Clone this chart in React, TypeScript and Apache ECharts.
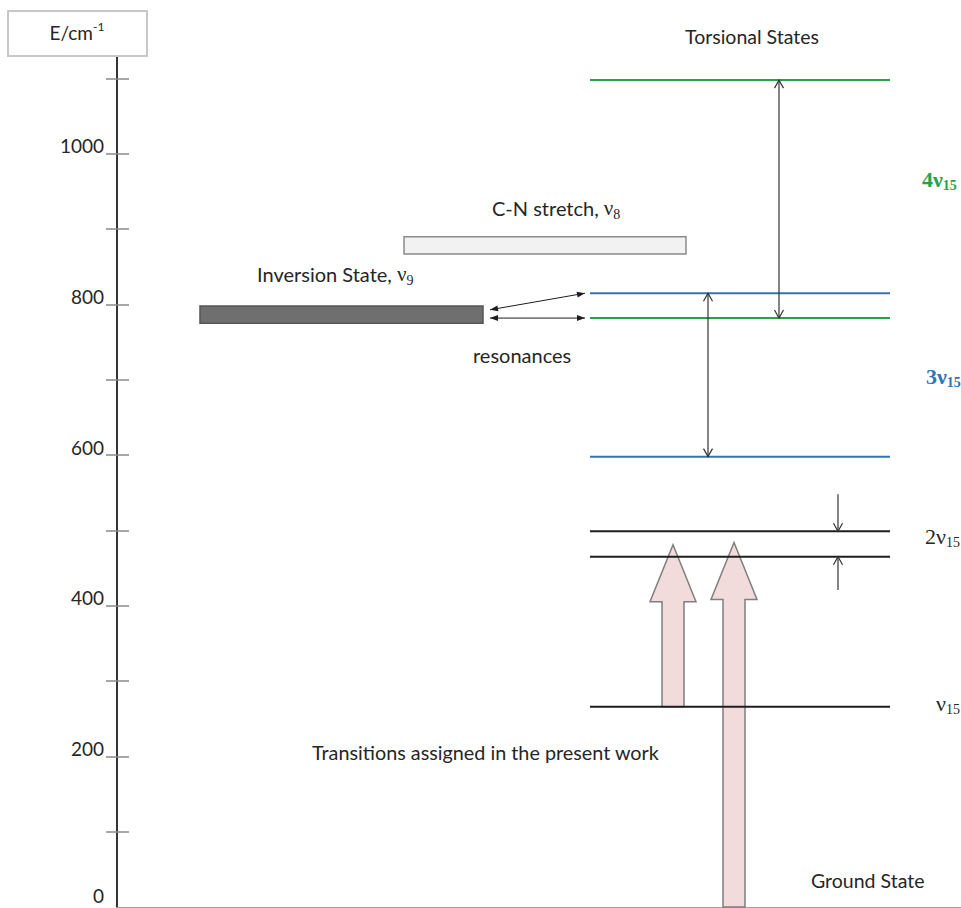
import React, { useEffect, useRef } from 'react';
import * as echarts from 'echarts';

// ---- data (energies in cm^-1) ----
const yTickValues = [100, 200, 300, 400, 500, 600, 700, 800, 900, 1000, 1100];
const yLabelValues = [0, 200, 400, 600, 800, 1000];

const levelFamilies = ['ν15', '2ν15', '2ν15', '3ν15', '3ν15', '4ν15', '4ν15'];
const levelEnergies = [266, 465, 499, 598, 815, 782, 1098];

const bandNames = ['Inversion State, ν9', 'C-N stretch, ν8'];
const bandLower = [775, 867];
const bandUpper = [798, 890];

const spacingLower = [598, 782];
const spacingUpper = [815, 1098];

const transitionStart = [266, 0];
const transitionEnd = [481, 484];

const resonanceBandEnergy = [793, 782];
const resonanceLevelEnergy = [815, 782];

const pointerFrom = [548, 421];
const pointerTo = [499, 465];

// ---- layout / styles ----
const LEVEL_X = [590, 890];
const BAND_X = [[200, 483], [404, 686]];
const BAND_FILL = ['#6f6f6f', '#f2f2f2'];
const BAND_STROKE = ['#555555', '#8a8a8a'];
const SPACING_X = [708, 779];
const TRANSITION_X = [673, 734];
const RESONANCE_X = [490, 585];
const POINTER_X = 838;
const FAMILY_COLOR: Record<string, string> = {
  'ν15': '#1e1e1e',
  '2ν15': '#1e1e1e',
  '3ν15': '#2f74b8',
  '4ν15': '#27a24c',
};
const SANS = 'Lato, "Open Sans", sans-serif';
const SERIF = '"Liberation Serif", "DejaVu Serif", serif';
const TEXT_COLOR = '#262626';

function chevron(x: number, y: number, dir: number, color: string) {
  return {
    type: 'polyline',
    shape: { points: [[x - 4.5, y - dir * 8], [x, y], [x + 4.5, y - dir * 8]] },
    style: { stroke: color, lineWidth: 1.2, fill: 'none' },
  };
}

function triHead(x: number, y: number, fromX: number, fromY: number, color: string) {
  const dx = x - fromX;
  const dy = y - fromY;
  const len = Math.sqrt(dx * dx + dy * dy) || 1;
  const ux = dx / len;
  const uy = dy / len;
  const L = 8;
  const W = 3;
  return {
    type: 'polygon',
    shape: {
      points: [
        [x, y],
        [x - ux * L - uy * W, y - uy * L + ux * W],
        [x - ux * L + uy * W, y - uy * L - ux * W],
      ],
    },
    style: { fill: color },
  };
}

function greekLabel(x: number, y: number, main: string, sub: string, color: string, bold: boolean) {
  return {
    type: 'text', z: 11, x, y,
    style: {
      text: `{m|${main}}{s|${sub}}`,
      textVerticalAlign: 'middle',
      rich: {
        m: { fontFamily: SERIF, fontSize: 22, fontWeight: bold ? 'bold' : 'normal', fill: color },
        s: { fontFamily: SERIF, fontSize: 14, fontWeight: bold ? 'bold' : 'normal', fill: color, padding: [13, 0, 0, 0] },
      },
    },
  };
}

function sansGreekLabel(x: number, y: number, plain: string, sub: string) {
  return {
    type: 'text', z: 11, x, y,
    style: {
      text: `{m|${plain}}{g|ν}{s|${sub}}`,
      textVerticalAlign: 'middle',
      rich: {
        m: { fontFamily: SANS, fontSize: 20, fill: TEXT_COLOR },
        g: { fontFamily: SERIF, fontSize: 21, fill: TEXT_COLOR },
        s: { fontFamily: SERIF, fontSize: 14, fill: TEXT_COLOR, padding: [12, 0, 0, 0] },
      },
    },
  };
}

export default function App() {
  const ref = useRef<HTMLDivElement>(null);
  useEffect(() => {
    if (!ref.current) return;
    document.body.style.margin = '0';
    const chart = echarts.init(ref.current, undefined, { renderer: 'svg' });

    const option: any = {
      animation: false,
      backgroundColor: '#ffffff',
      grid: { left: 117, right: 0, top: 56, bottom: 1, containLabel: false },
      xAxis: {
        type: 'value',
        min: 117,
        max: 961,
        axisLine: { show: true, lineStyle: { color: '#a0a0a0', width: 1 } },
        axisTick: { show: false },
        axisLabel: { show: false },
        splitLine: { show: false },
      },
      yAxis: [
        {
          type: 'value',
          min: 0,
          max: 1130,
          position: 'left',
          axisLine: { show: true, lineStyle: { color: '#333333', width: 2 } },
          axisTick: {
            show: true,
            inside: false,
            length: 11,
            customValues: yTickValues,
            lineStyle: { color: '#8a8a8a', width: 1.5 },
          },
          axisLabel: {
            show: true,
            customValues: yLabelValues,
            formatter: (v: number) => (v === 0 ? '{z|0}' : String(v)),
            margin: 13,
            fontFamily: SANS,
            fontSize: 19,
            color: TEXT_COLOR,
            verticalAlign: 'bottom',
            lineHeight: 16,
            rich: {
              z: { fontFamily: SANS, fontSize: 19, color: TEXT_COLOR, lineHeight: 24 },
            },
          },
          splitLine: { show: false },
        },
        {
          type: 'value',
          min: 0,
          max: 1130,
          position: 'left',
          axisLine: { show: false },
          axisTick: {
            show: true,
            inside: true,
            length: 12,
            customValues: yTickValues,
            lineStyle: { color: '#8a8a8a', width: 1.5 },
          },
          axisLabel: { show: false },
          splitLine: { show: false },
        },
      ],
      series: [
        {
          type: 'custom',
          name: 'transitions',
          z: 1,
          data: transitionStart.map((s, i) => [s, transitionEnd[i]]),
          renderItem: (params: any, api: any) => {
            const i = params.dataIndex;
            const xc = api.coord([TRANSITION_X[i], 0])[0];
            const y0 = api.coord([TRANSITION_X[i], api.value(0)])[1];
            const yt = api.coord([TRANSITION_X[i], api.value(1)])[1];
            const sw = 11;
            const hw = 23;
            const hl = 57;
            return {
              type: 'polygon',
              shape: {
                points: [
                  [xc - sw, y0],
                  [xc - sw, yt + hl],
                  [xc - hw, yt + hl],
                  [xc, yt],
                  [xc + hw, yt + hl],
                  [xc + sw, yt + hl],
                  [xc + sw, y0],
                ],
              },
              style: { fill: '#f2dcdb', stroke: '#7f7f7f', lineWidth: 1.5 },
            };
          },
        },
        {
          type: 'custom',
          name: 'bands',
          z: 2,
          data: bandLower.map((l, i) => [l, bandUpper[i]]),
          renderItem: (params: any, api: any) => {
            const i = params.dataIndex;
            const p1 = api.coord([BAND_X[i][0], api.value(1)]);
            const p2 = api.coord([BAND_X[i][1], api.value(0)]);
            return {
              type: 'rect',
              shape: { x: p1[0], y: p1[1], width: p2[0] - p1[0], height: p2[1] - p1[1] },
              style: { fill: BAND_FILL[i], stroke: BAND_STROKE[i], lineWidth: 1.5 },
            };
          },
        },
        {
          type: 'custom',
          name: 'levels',
          z: 3,
          data: levelEnergies.map((e) => [e]),
          renderItem: (params: any, api: any) => {
            const i = params.dataIndex;
            const a = api.coord([LEVEL_X[0], api.value(0)]);
            const b = api.coord([LEVEL_X[1], api.value(0)]);
            return {
              type: 'line',
              shape: { x1: a[0], y1: a[1], x2: b[0], y2: b[1] },
              style: { stroke: FAMILY_COLOR[levelFamilies[i]], lineWidth: 2 },
            };
          },
        },
        {
          type: 'custom',
          name: 'spacings',
          z: 4,
          data: spacingLower.map((l, i) => [l, spacingUpper[i]]),
          renderItem: (params: any, api: any) => {
            const i = params.dataIndex;
            const lo = api.coord([SPACING_X[i], api.value(0)]);
            const hi = api.coord([SPACING_X[i], api.value(1)]);
            const c = '#333333';
            return {
              type: 'group',
              children: [
                { type: 'line', shape: { x1: lo[0], y1: lo[1], x2: hi[0], y2: hi[1] }, style: { stroke: c, lineWidth: 1.2 } },
                chevron(hi[0], hi[1], -1, c),
                chevron(lo[0], lo[1], 1, c),
              ],
            };
          },
        },
        {
          type: 'custom',
          name: 'resonances',
          z: 4,
          data: resonanceBandEnergy.map((b, i) => [b, resonanceLevelEnergy[i]]),
          renderItem: (params: any, api: any) => {
            const a = api.coord([RESONANCE_X[0], api.value(0)]);
            const b = api.coord([RESONANCE_X[1], api.value(1)]);
            const c = '#1e1e1e';
            return {
              type: 'group',
              children: [
                { type: 'line', shape: { x1: a[0], y1: a[1], x2: b[0], y2: b[1] }, style: { stroke: c, lineWidth: 1 } },
                triHead(a[0], a[1], b[0], b[1], c),
                triHead(b[0], b[1], a[0], a[1], c),
              ],
            };
          },
        },
        {
          type: 'custom',
          name: 'pointers',
          z: 4,
          data: pointerFrom.map((f, i) => [f, pointerTo[i]]),
          renderItem: (params: any, api: any) => {
            const a = api.coord([POINTER_X, api.value(0)]);
            const b = api.coord([POINTER_X, api.value(1)]);
            const c = '#333333';
            return {
              type: 'group',
              children: [
                { type: 'line', shape: { x1: a[0], y1: a[1], x2: b[0], y2: b[1] }, style: { stroke: c, lineWidth: 1.2 } },
                chevron(b[0], b[1], b[1] > a[1] ? 1 : -1, c),
              ],
            };
          },
        },
      ],
      graphic: [
        {
          type: 'rect',
          z: 10,
          shape: { x: 8, y: 11, width: 139, height: 45 },
          style: { fill: '#ffffff', stroke: '#c8c8c8', lineWidth: 2 },
        },
        {
          type: 'text',
          z: 11,
          x: 77,
          y: 32,
          style: {
            text: '{m|E/cm}{s|-1}',
            textAlign: 'center',
            textVerticalAlign: 'middle',
            rich: {
              m: { fontFamily: SANS, fontSize: 19, fill: TEXT_COLOR },
              s: { fontFamily: SANS, fontSize: 12, fill: TEXT_COLOR, padding: [0, 0, 12, 0] },
            },
          },
        },
        {
          type: 'text', z: 11, x: 685, y: 36,
          style: { text: 'Torsional States', font: `19.5px ${SANS}`, fill: TEXT_COLOR, textVerticalAlign: 'middle' },
        },
        sansGreekLabel(492, 208, 'C-N stretch, ', '8'),
        sansGreekLabel(257, 274, 'Inversion State, ', '9'),
        {
          type: 'text', z: 11, x: 473, y: 355,
          style: { text: 'resonances', font: `20px ${SANS}`, fill: TEXT_COLOR, textVerticalAlign: 'middle' },
        },
        {
          type: 'text', z: 11, x: 312, y: 752,
          style: { text: 'Transitions assigned in the present work', font: `19.8px ${SANS}`, fill: TEXT_COLOR, textVerticalAlign: 'middle' },
        },
        {
          type: 'text', z: 11, x: 811, y: 880,
          style: { text: 'Ground State', font: `19.5px ${SANS}`, fill: TEXT_COLOR, textVerticalAlign: 'middle' },
        },
        greekLabel(922, 179, '4ν', '15', FAMILY_COLOR['4ν15'], true),
        greekLabel(926, 376, '3ν', '15', FAMILY_COLOR['3ν15'], true),
        greekLabel(925, 536, '2ν', '15', TEXT_COLOR, false),
        greekLabel(936, 703, 'ν', '15', TEXT_COLOR, false),
      ],
    };

    chart.setOption(option);
    return () => chart.dispose();
  }, []);

  return (
    <div
      ref={ref}
      style={{ width: 961, height: 908, background: '#ffffff' }}
    />
  );
}
